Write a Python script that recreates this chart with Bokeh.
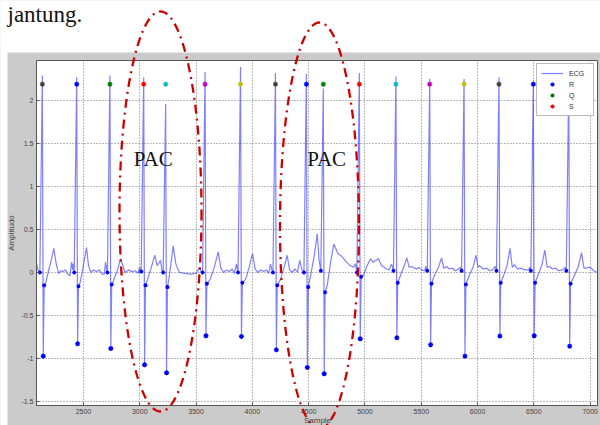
import numpy as np
from bokeh.plotting import figure
from bokeh.models import (Range1d, FixedTicker, Label, PolyAnnotation, BoxAnnotation,
                          Legend, LegendItem)
from bokeh.embed import file_html
from bokeh.resources import INLINE

# ---------------- data ----------------
r_x = [2135, 2440, 2735, 3035, 3230, 3580, 3895, 4205, 4480, 4630,
       4950, 5275, 5575, 5880, 6190, 6495, 6810]
r_amp = [2.29, 2.27, 2.29, 2.27, 1.96, 2.33, 2.39, 2.32, 2.31, 2.14,
         2.32, 2.28, 2.25, 2.25, 2.27, 2.21, 2.25]
s_amp = [-0.974, -0.83, -0.884, -1.073, -1.166, -0.736, -0.744, -0.90, -1.105, -1.178,
         -0.771, -0.76, -0.84, -0.973, -0.74, -0.736, -0.857]
q_amp = [0.0, 0.0, 0.0, 0.01, 0.0, 0.0, 0.0, 0.0, 0.0, 0.02,
         0.0, 0.02, 0.02, 0.02, 0.02, 0.02, 0.02]
j_amp = [-0.15, -0.16, -0.14, -0.15, -0.17, -0.13, -0.12, -0.15, -0.17, -0.23,
         -0.05, -0.12, -0.13, -0.14, -0.12, -0.12, -0.13]
r_mark_y = [2.19, 2.19, 2.19, 2.19, 2.19, 2.19, 2.19, 2.19, 2.19, 2.19,
            2.19, 2.19, 2.19, 2.19, 2.19, 2.19, 2.19]
r_mark_color = ["k", "b", "g", "r", "c", "m", "y", "k", "b", "g",
                "r", "c", "m", "y", "k", "b", "g"]

wave_x = [2083, 2098,
          2165, 2190, 2215, 2237, 2258, 2279, 2300, 2318, 2340, 2362, 2380, 2395, 2404, 2410,
          2470, 2495, 2527, 2545, 2565, 2590, 2615, 2640, 2665, 2685, 2696, 2706,
          2765, 2800, 2830, 2850, 2870, 2900, 2930, 2960, 2985, 2998,
          3070, 3100, 3134, 3155, 3170, 3184, 3198,
          3262, 3297, 3320, 3353, 3400, 3450, 3500, 3533, 3545,
          3625, 3660, 3697, 3720, 3745, 3770, 3795, 3820, 3840, 3859, 3868,
          3940, 3970, 4001, 4025, 4050, 4075, 4100, 4125, 4145, 4160, 4175,
          4250, 4280, 4309, 4330, 4350, 4380, 4400, 4421, 4440,
          4520, 4550, 4576, 4592,
          4665, 4695, 4723, 4760, 4792, 4836, 4870, 4896, 4915,
          4987, 5020, 5049, 5070, 5085, 5120, 5147, 5170, 5191, 5215, 5236,
          5325, 5350, 5372, 5392, 5413, 5440, 5458, 5480, 5502, 5530, 5540,
          5620, 5650, 5680, 5700, 5724, 5750, 5777, 5805, 5830, 5845,
          5930, 5960, 5986, 6005, 6017, 6050, 6079, 6110, 6133, 6155,
          6235, 6262, 6288, 6308, 6328, 6355, 6381, 6420, 6452, 6463,
          6540, 6570, 6597, 6618, 6639, 6665, 6692, 6720, 6754, 6775,
          6865, 6895, 6923, 6945, 6967, 6985, 7003, 7030, 7065]
wave_y = [0.10, 0.02,
          -0.12, 0.02, 0.15, 0.28, 0.10, -0.01, 0.02, 0.01, 0.03, -0.02, -0.04, 0.12, 0.03, 0.10,
          -0.12, 0.05, 0.29, 0.08, 0.0, 0.03, 0.01, 0.03, -0.02, -0.02, 0.12, 0.03,
          -0.10, 0.02, 0.16, 0.08, 0.0, 0.03, 0.01, 0.02, -0.01, 0.06,
          -0.08, 0.05, 0.20, 0.08, 0.11, 0.14, 0.02,
          -0.05, 0.31, 0.10, 0.0, -0.01, -0.02, -0.01, 0.06, 0.0,
          -0.08, 0.05, 0.24, 0.05, 0.0, 0.03, 0.01, 0.04, -0.01, 0.10, 0.02,
          -0.08, 0.05, 0.22, 0.04, 0.0, 0.03, 0.01, 0.03, -0.01, 0.10, 0.02,
          -0.08, 0.05, 0.20, 0.03, 0.0, 0.04, 0.0, 0.14, 0.03,
          -0.02, 0.20, 0.45, 0.15,
          -0.15, 0.12, 0.33, 0.22, 0.19, 0.12, 0.08, 0.06, 0.10,
          -0.03, 0.08, 0.16, 0.12, 0.13, 0.16, 0.08, 0.06, 0.04, 0.03, 0.10,
          0.0, 0.08, 0.17, 0.06, 0.07, 0.05, 0.04, 0.06, 0.03, 0.02, 0.07,
          -0.02, 0.05, 0.17, 0.05, 0.07, 0.04, 0.05, 0.02, 0.04, 0.06,
          -0.02, 0.06, 0.20, 0.06, 0.08, 0.04, 0.05, 0.02, 0.03, 0.07,
          -0.02, 0.08, 0.28, 0.06, 0.09, 0.04, 0.05, 0.03, 0.03, 0.06,
          -0.02, 0.08, 0.26, 0.06, 0.07, 0.04, 0.05, 0.02, 0.03, 0.06,
          -0.02, 0.07, 0.23, 0.05, 0.05, 0.06, 0.06, 0.02, 0.0]

x_ticks = [2500, 3000, 3500, 4000, 4500, 5000, 5500, 6000, 6500, 7000]
y_ticks = [-1.5, -1.0, -0.5, 0.0, 0.5, 1.0, 1.5, 2.0]
y_tick_labels = ["-1.5", "-1", "-0.5", "0", "0.5", "1", "1.5", "2"]
legend_labels = ["ECG", "R", "Q", "S"]
pac_text = ["PAC", "PAC"]
x_title = "Sample"
y_title = "Amplitudo"
caption = "jantung."

matlab = {"k": "#404040", "b": "#0000ff", "g": "#008000", "r": "#ff0000",
          "c": "#00bfbf", "m": "#bf00bf", "y": "#bfbf00"}

# ---------------- build the ECG trace ----------------
Q_OFF, S_OFF, J_OFF = -22, 8, 16
pts = list(zip(wave_x, wave_y))
for r, ra, sa, qa, ja in zip(r_x, r_amp, s_amp, q_amp, j_amp):
    pts += [(r + Q_OFF, qa), (r, ra), (r + S_OFF, sa), (r + J_OFF, ja)]
pts.sort(key=lambda t: t[0])
ecg_x = [t[0] for t in pts]
ecg_y = [t[1] for t in pts]

# ---------------- main MATLAB-style figure ----------------
p = figure(width=600, height=425, output_backend="svg", toolbar_location=None,
           x_range=Range1d(2083, 7065), y_range=Range1d(-1.547, 2.465),
           min_border_left=36, min_border_right=3, min_border_top=60, min_border_bottom=20,
           background_fill_color="white", border_fill_color="#cbcbcb",
           outline_line_color="#555555", outline_line_width=1)

for ax in (p.xaxis, p.yaxis):
    ax.major_label_text_font = "Liberation Sans"
    ax.major_label_text_font_size = "7px"
    ax.major_label_text_color = "#444444"
    ax.major_tick_in = 3
    ax.major_tick_out = 0
    ax.minor_tick_line_color = None
    ax.axis_line_color = "#555555"
    ax.major_tick_line_color = "#555555"
    ax.major_label_standoff = 3

p.xaxis.ticker = FixedTicker(ticks=x_ticks)
p.yaxis.ticker = FixedTicker(ticks=y_ticks)
p.yaxis.major_label_overrides = dict(zip(y_ticks, y_tick_labels))
p.yaxis.axis_label = y_title
p.yaxis.axis_label_text_font = "Liberation Sans"
p.yaxis.axis_label_text_font_size = "8px"
p.yaxis.axis_label_text_font_style = "normal"
p.yaxis.axis_label_text_color = "#444444"
p.yaxis.axis_label_standoff = 2

p.xgrid.ticker = FixedTicker(ticks=x_ticks)
p.ygrid.ticker = FixedTicker(ticks=y_ticks)
for g in (p.xgrid, p.ygrid):
    g.grid_line_color = "#555555"
    g.grid_line_dash = "1 2"
    g.grid_line_alpha = 0.8

ecg = p.line(ecg_x, ecg_y, line_color="#2b2bff", line_alpha=0.6, line_width=1.2)

# blue markers at S (bottom), Q and J points
p.scatter([r + S_OFF for r in r_x], s_amp, marker="asterisk", size=5,
          line_color="#0000ff", line_width=1.3)
p.scatter([r + Q_OFF for r in r_x] + [r + J_OFF for r in r_x], q_amp + j_amp,
          marker="asterisk", size=4, line_color="#0000ff", line_width=1.1)

# coloured R markers (one renderer per colour, as MATLAB cycles colours)
groups = {}
for x, y, c in zip(r_x, r_mark_y, r_mark_color):
    groups.setdefault(c, ([], []))
    groups[c][0].append(x)
    groups[c][1].append(y)
rend = {}
for c, (xs, ys) in groups.items():
    rend[c] = p.scatter(xs, ys, marker="asterisk", size=5, line_color=matlab[c], line_width=1.3)

legend = Legend(items=[LegendItem(label=legend_labels[0], renderers=[ecg]),
                       LegendItem(label=legend_labels[1], renderers=[rend["b"]]),
                       LegendItem(label=legend_labels[2], renderers=[rend["g"]]),
                       LegendItem(label=legend_labels[3], renderers=[rend["r"]])],
                location="top_right", margin=3, padding=4, spacing=1,
                glyph_width=22, glyph_height=10, label_height=10, label_standoff=6,
                label_text_font="Liberation Sans", label_text_font_size="7px",
                label_text_color="#333333",
                border_line_color="#777777", background_fill_alpha=1)
p.add_layout(legend)

# PAC annotations (inside the axes)
for tx, lab in zip([2947, 4487], pac_text):
    p.add_layout(Label(x=tx, y=1.32, text=lab, text_align="left", text_baseline="alphabetic",
                       text_font="Liberation Serif", text_font_size="21px", text_color="#111111"))

# ---------------- transparent page overlay (pixel coordinates) ----------------
ov = figure(width=600, height=425, output_backend="svg", toolbar_location=None, title=None,
            x_range=Range1d(0, 600), y_range=Range1d(425, 0),
            x_axis_type=None, y_axis_type=None, min_border=0,
            background_fill_alpha=0, border_fill_alpha=0, outline_line_color=None,
            styles={"margin-top": "-425px"})

# white page around the grey MATLAB figure window
ov.add_layout(BoxAnnotation(left=0, right=600, top=0, bottom=52,
                            fill_color="white", fill_alpha=1, line_color=None))
ov.add_layout(BoxAnnotation(left=0, right=7, top=0, bottom=425,
                            fill_color="white", fill_alpha=1, line_color=None))

ov.add_layout(Label(x=7, y=14, text=caption, text_align="left", text_baseline="alphabetic",
                    text_font="Liberation Serif", text_font_size="23px", text_color="#111111"))
ov.add_layout(Label(x=317, y=415, text=x_title, text_align="center", text_baseline="top",
                    text_font="Liberation Sans", text_font_size="8px", text_color="#444444"))

t = np.linspace(0, 2 * np.pi, 240)
for cx, cy, a, b in [(160, 211, 41, 200), (319, 225, 39.5, 203)]:
    ov.add_layout(PolyAnnotation(xs=list(cx + a * np.cos(t)), ys=list(cy + b * np.sin(t)),
                                 fill_alpha=0, line_color="#cc0000", line_alpha=1,
                                 line_width=2.3, line_dash="9 5 2 5"))

open("out.html", "w").write(file_html([p, ov], INLINE))
